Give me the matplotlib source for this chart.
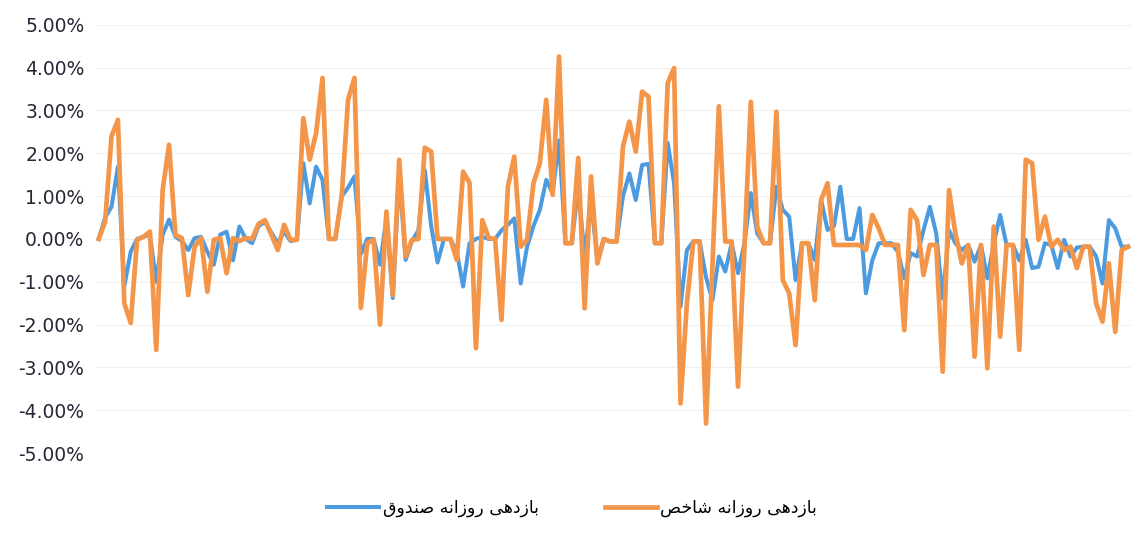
import matplotlib
matplotlib.use("Agg")
import matplotlib.pyplot as plt
from matplotlib.ticker import FuncFormatter

# daily returns in percent
fund_returns = [
    0.0, 0.5, 0.75, 1.69, -1.11, -0.3, 0.0, 0.05, 0.1, -1.0,
    0.1, 0.45, 0.05, -0.05, -0.26, 0.02, 0.05, -0.3, -0.6, 0.1,
    0.17, -0.5, 0.29, 0.0, -0.1, 0.3, 0.4, 0.15, -0.1, 0.17,
    -0.05, -0.02, 1.77, 0.83, 1.69, 1.38, 0.0, 0.0, 0.99, 1.2,
    1.46, -0.35, 0.0, 0.0, -0.6, 0.5, -1.38, 1.5, -0.49, -0.05,
    0.2, 1.61, 0.3, -0.55, 0.0, 0.0, -0.3, -1.11, -0.1, 0.0,
    0.05, 0.0, 0.0, 0.2, 0.33, 0.48, -1.04, -0.18, 0.3, 0.68,
    1.38, 1.07, 2.3, -0.1, -0.1, 1.2, -0.4, 0.9, -0.5, 0.0,
    -0.06, -0.06, 1.0, 1.53, 0.91, 1.73, 1.75, -0.1, -0.1, 2.24,
    1.3, -1.58, -0.26, -0.06, -0.06, -0.9, -1.43, -0.41, -0.76, -0.1,
    -0.8, -0.1, 1.07, 0.13, -0.1, -0.1, 1.22, 0.68, 0.52, -0.96,
    -0.1, -0.1, -0.49, 0.91, 0.21, 0.3, 1.22, 0.0, 0.0, 0.72,
    -1.27, -0.5, -0.1, -0.1, -0.1, -0.3, -0.92, -0.33, -0.41, 0.2,
    0.75, 0.13, -1.39, 0.2, -0.1, -0.26, -0.14, -0.53, -0.14, -0.92,
    -0.1, 0.56, -0.14, -0.14, -0.5, -0.02, -0.68, -0.65, -0.1, -0.14,
    -0.68, -0.02, -0.41, -0.2, -0.18, -0.18, -0.4, -1.04, 0.44, 0.25,
    -0.18, -0.18,
]

index_returns = [
    0.0, 0.4, 2.4, 2.78, -1.5, -1.96, -0.02, 0.05, 0.17, -2.59,
    1.14, 2.2, 0.09, 0.02, -1.31, -0.18, 0.02, -1.23, -0.02, 0.02,
    -0.8, 0.02, -0.05, 0.02, 0.0, 0.35, 0.44, 0.1, -0.26, 0.33,
    -0.02, -0.02, 2.82, 1.85, 2.47, 3.76, 0.0, 0.0, 0.99, 3.25,
    3.76, -1.61, -0.1, -0.02, -2.0, 0.64, -1.31, 1.85, -0.41, -0.02,
    0.0, 2.13, 2.04, 0.0, 0.0, 0.0, -0.49, 1.57, 1.31, -2.55,
    0.44, 0.02, 0.0, -1.89, 1.22, 1.92, -0.18, -0.02, 1.3, 1.77,
    3.25, 1.03, 4.26, -0.1, -0.1, 1.89, -1.62, 1.46, -0.57, 0.0,
    -0.06, -0.06, 2.16, 2.74, 2.04, 3.44, 3.32, -0.1, -0.1, 3.64,
    3.99, -3.84, -1.5, -0.06, -0.06, -4.31, -0.6, 3.1, -0.06, -0.06,
    -3.45, -0.2, 3.2, 0.29, -0.1, -0.1, 2.97, -0.96, -1.27, -2.48,
    -0.1, -0.1, -1.43, 0.91, 1.3, -0.14, -0.14, -0.14, -0.14, -0.14,
    -0.26, 0.56, 0.25, -0.14, -0.14, -0.14, -2.13, 0.68, 0.44, -0.84,
    -0.14, -0.14, -3.1, 1.14, 0.13, -0.57, -0.14, -2.75, -0.14, -3.02,
    0.29, -2.28, -0.14, -0.14, -2.59, 1.85, 1.77, -0.02, 0.52, -0.18,
    -0.02, -0.26, -0.18, -0.68, -0.18, -0.18, -1.5, -1.93, -0.57, -2.17,
    -0.26, -0.18,
]

y_ticks = [-5, -4, -3, -2, -1, 0, 1, 2, 3, 4, 5]

fund_label = "بازدهی روزانه صندوق"
index_label = "بازدهی روزانه شاخص"

# matplotlib has no arabic shaping, so pick the contextual glyphs by hand
FORMS = {
    "ب": "\uFE8F\uFE90\uFE91\uFE92",
    "ه": "\uFEE9\uFEEA\uFEEB\uFEEC",
    "ی": "\uFBFC\uFBFD\uFBFE\uFBFF",
    "ن": "\uFEE5\uFEE6\uFEE7\uFEE8",
    "ص": "\uFEB9\uFEBA\uFEBB\uFEBC",
    "ق": "\uFED5\uFED6\uFED7\uFED8",
    "ش": "\uFEB5\uFEB6\uFEB7\uFEB8",
    "خ": "\uFEA5\uFEA6\uFEA7\uFEA8",
    "ا": "\uFE8D\uFE8E",
    "ز": "\uFEAF\uFEB0",
    "د": "\uFEA9\uFEAA",
    "ر": "\uFEAD\uFEAE",
    "و": "\uFEED\uFEEE",
}


def shape(text):
    out = []
    for i, ch in enumerate(text):
        if ch not in FORMS:
            out.append(ch)
            continue
        prev = text[i - 1] if i > 0 else " "
        nxt = text[i + 1] if i + 1 < len(text) else " "
        dual = len(FORMS[ch]) == 4
        join_prev = prev in FORMS and len(FORMS[prev]) == 4
        join_next = dual and nxt in FORMS
        if join_prev and join_next:
            out.append(FORMS[ch][3])
        elif join_prev:
            out.append(FORMS[ch][1])
        elif join_next:
            out.append(FORMS[ch][2])
        else:
            out.append(FORMS[ch][0])
    return "".join(out)[::-1]


plt.rcParams["font.family"] = ["DejaVu Sans", "Noto Sans"]

fig = plt.figure(figsize=(11.4, 5.4), dpi=100)
ax = fig.add_axes([0.0838, 0.161, 0.9085, 0.793])

x = range(len(fund_returns))
ax.plot(x, fund_returns, color="#4C9BE0", lw=2.9, solid_joinstyle="round",
        label=shape(fund_label))
ax.plot(x, index_returns, color="#F4964A", lw=3.4, solid_joinstyle="round",
        label=shape(index_label))

ax.set_xlim(-0.5, len(fund_returns) - 0.5)
ax.set_ylim(-5, 5)
ax.set_yticks(y_ticks)
ax.yaxis.set_major_formatter(FuncFormatter(lambda v, p: f"{v:.2f}%"))
ax.set_xticks([])
ax.tick_params(axis="y", length=0, pad=8, labelsize=13.5, labelcolor="#262636")
ax.grid(axis="y", color="#f0f0f0", lw=0.8)
ax.set_axisbelow(True)
for s in ax.spines.values():
    s.set_visible(False)

fig.legend(loc="center", bbox_to_anchor=(0.502, 0.059), ncol=2, frameon=False,
           fontsize=12.5, handlelength=3.0, handletextpad=0.2, columnspacing=3.8)

fig.savefig("out.png", dpi=100)
